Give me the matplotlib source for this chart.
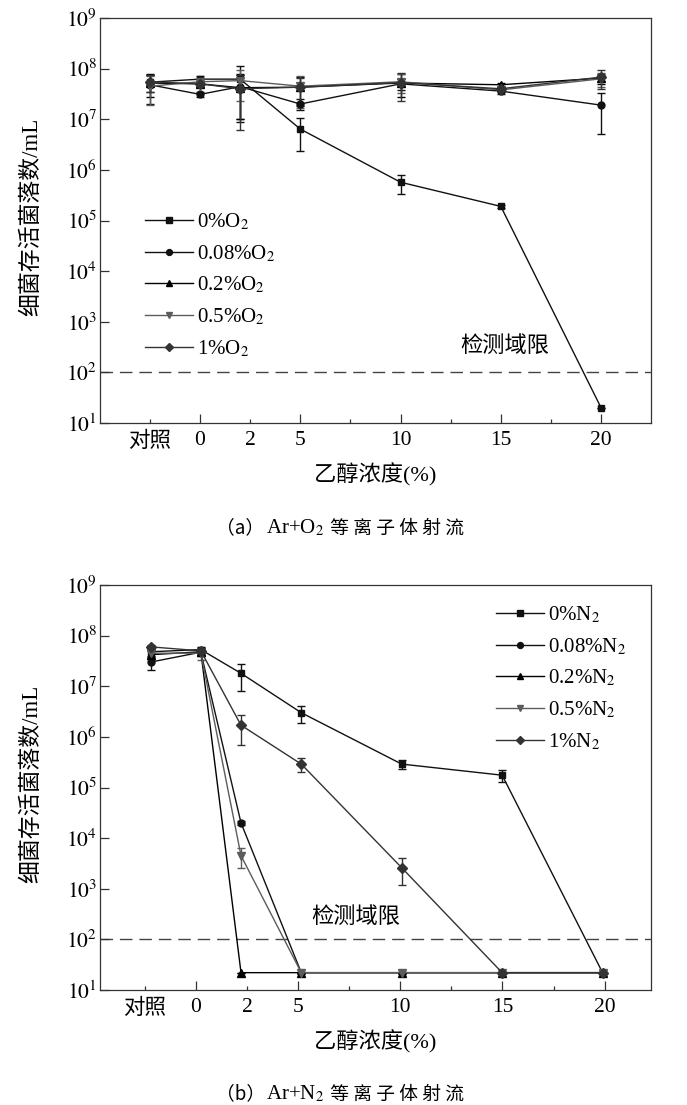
import numpy as np
import matplotlib
matplotlib.use('Agg')
import matplotlib.pyplot as plt
from matplotlib.offsetbox import TextArea, HPacker, AnchoredOffsetbox

plt.rcParams['font.family'] = ['Liberation Serif', 'Noto Sans CJK SC']
plt.rcParams['mathtext.fontset'] = 'stix'

# ethanol concentration positions (对照 drawn left of 0)
conc = [-2.5, 0, 2, 5, 10, 15, 20]
tick_major = [0, 5, 10, 15, 20]
tick_major_labels = ['0', '5', '10', '15', '20']
tick_minor = [-2.5, 2.5, 7.5, 12.5, 17.5]
tick_minor_labels = ['对照', '2', '', '', '']

# (a) Ar+O2 plasma jet
o2_labels = ['0%O$_2$', '0.08%O$_2$', '0.2%O$_2$', '0.5%O$_2$', '1%O$_2$']
o2_0 = [5.4e7, 6.2e7, 6.2e7, 6.4e6, 5.7e5, 1.9e5, 20]
o2_0_err = [2.0e7, 0.8e7, 5.3e7, 4.0e6, 2.3e5, 1.0e4, 0]
o2_008 = [4.8e7, 3.1e7, 4.4e7, 2.0e7, 5.0e7, 3.6e7, 1.9e7]
o2_008_err = [2.8e7, 0.4e7, 3.4e7, 0.5e7, 1.2e7, 0.4e7, 1.4e7]
o2_02 = [5.2e7, 5.0e7, 4.2e7, 4.3e7, 5.2e7, 4.8e7, 6.5e7]
o2_02_err = [2.5e7, 0.6e7, 3.2e7, 2.5e7, 2.5e7, 0.4e7, 1.5e7]
o2_05 = [4.5e7, 5.5e7, 5.8e7, 4.5e7, 5.5e7, 3.8e7, 6.3e7]
o2_05_err = [2.6e7, 0.5e7, 3.5e7, 2.8e7, 2.2e7, 0.3e7, 2.0e7]
o2_1 = [5.5e7, 5.0e7, 4.0e7, 4.3e7, 5.3e7, 4.0e7, 6.8e7]
o2_1_err = [2.0e7, 0.5e7, 3.4e7, 2.2e7, 3.0e7, 0.4e7, 2.8e7]

# (b) Ar+N2 plasma jet
n2_labels = ['0%N$_2$', '0.08%N$_2$', '0.2%N$_2$', '0.5%N$_2$', '1%N$_2$']
n2_0 = [4.8e7, 5.3e7, 1.8e7, 3.0e6, 2.9e5, 1.75e5, 22]
n2_0_err = [1.0e7, 0.6e7, 1.0e7, 1.1e6, 0.6e5, 0.45e5, 0]
n2_008 = [3.0e7, 4.7e7, 2.0e4, 22, 22, 22, 22]
n2_008_err = [0.9e7, 0.8e7, 0.15e4, 0, 0, 0, 0]
n2_02 = [4.2e7, 4.8e7, 22, 22, 22, 22, 22]
n2_02_err = [0.8e7, 0.7e7, 0, 0, 0, 0, 0]
n2_05 = [4.5e7, 4.5e7, 4.5e3, 22, 22, 22, 22]
n2_05_err = [0.8e7, 1.2e7, 1.9e3, 0, 0, 0, 0]
n2_1 = [6.0e7, 5.0e7, 1.7e6, 2.9e5, 2.6e3, 22, 22]
n2_1_err = [0.6e7, 0.6e7, 1.0e6, 0.9e5, 1.4e3, 0, 0]

detect_limit = 100

markers = ['s', 'o', '^', 'v', 'D']
colors = ['#111111', '#111111', '#000000', '#5c5c5c', '#333333']
msizes = [5, 5, 5.5, 5.5, 5]
cjk = ['Noto Sans CJK SC']


def draw_panel(ax, vals, errs, labels, leg_anchor, note_xy, tick_shift, tick_scale, xlim):
    handles = []
    for v, e, m, c, ms in zip(vals, errs, markers, colors, msizes):
        cont = ax.errorbar(conc, v, yerr=e, marker=m, color=c, ms=ms, lw=1.0,
                           elinewidth=1.0, capsize=2.6, capthick=1.0)
        handles.append(cont[0])
    ax.set_yscale('log')
    ax.set_ylim(10, 1e9)
    ax.set_xlim(*xlim)
    ax.set_yticks([10.0 ** k for k in range(1, 10)])
    ax.set_yticklabels([r'$10^{%d}$' % k for k in range(1, 10)])
    ax.yaxis.set_minor_locator(plt.NullLocator())
    ax.set_xticks([tick_shift + tick_scale * t for t in tick_major])
    ax.set_xticklabels(tick_major_labels)
    ax.set_xticks([tick_shift + tick_scale * t for t in tick_minor], tick_minor_labels, minor=True)
    ax.tick_params(axis='both', which='both', direction='in', top=False, right=False,
                   labelsize=15.5, width=0.9, color='#333333')
    ax.tick_params(axis='x', which='major', length=6.5, pad=6)
    ax.tick_params(axis='x', which='minor', length=3, pad=6)
    ax.tick_params(axis='y', which='major', length=6.5, pad=2)
    for sp in ax.spines.values():
        sp.set_linewidth(0.9)
        sp.set_color('#333333')

    ax.axhline(detect_limit, color='#444444', lw=1.0, dashes=(9, 5), zorder=0)
    ax.text(note_xy[0], note_xy[1], '检测域限', fontsize=16, ha='center', va='center', family=cjk)

    ax.set_ylabel('细菌存活菌落数/mL', fontsize=16.5)
    ax.yaxis.set_label_coords(-0.105, 0.51)
    ax.set_xlabel('乙醇浓度(%)', fontsize=16)
    ax.xaxis.set_label_coords(0.5, -0.1)

    ax.legend(handles, labels, loc='upper left', bbox_to_anchor=leg_anchor, frameon=False,
              fontsize=15, handlelength=2.3, handletextpad=0.2, labelspacing=0.52,
              borderpad=0, borderaxespad=0, markerscale=0.85)


def caption(fig, y, tag, gas):
    parts = [TextArea('（%s）' % tag, textprops=dict(fontsize=13.5, family=cjk)),
             TextArea('Ar+%s$_2$' % gas, textprops=dict(fontsize=15)),
             TextArea(' 等 离 子 体 射 流', textprops=dict(fontsize=13.5, family=cjk))]
    box = HPacker(children=parts, align='baseline', pad=0, sep=1)
    ab = AnchoredOffsetbox(loc='center', child=box, bbox_to_anchor=(340 / 687, y),
                           bbox_transform=fig.transFigure, frameon=False, pad=0, borderpad=0)
    fig.add_artist(ab)


fig = plt.figure(figsize=(6.87, 11.05), dpi=100)

ax1 = fig.add_axes([100 / 687, 1 - 423 / 1105, 551 / 687, 405 / 1105])
draw_panel(ax1, [o2_0, o2_008, o2_02, o2_05, o2_1],
           [o2_0_err, o2_008_err, o2_02_err, o2_05_err, o2_1_err],
           o2_labels, (45 / 551, (423 - 212) / 405), (15.2, 340), 0, 1.0, (-4.99, 22.49))

ax2 = fig.add_axes([100 / 687, 1 - 990 / 1105, 551 / 687, 405 / 1105])
draw_panel(ax2, [n2_0, n2_008, n2_02, n2_05, n2_1],
           [n2_0_err, n2_008_err, n2_02_err, n2_05_err, n2_1_err],
           n2_labels, (396 / 551, (990 - 605) / 405), (7.7, 290), -0.25, 1.0175, (-5.02, 22.41))

caption(fig, 1 - 528 / 1105, 'a', 'O')
caption(fig, 1 - 1094 / 1105, 'b', 'N')

fig.savefig('out.png', dpi=100)
